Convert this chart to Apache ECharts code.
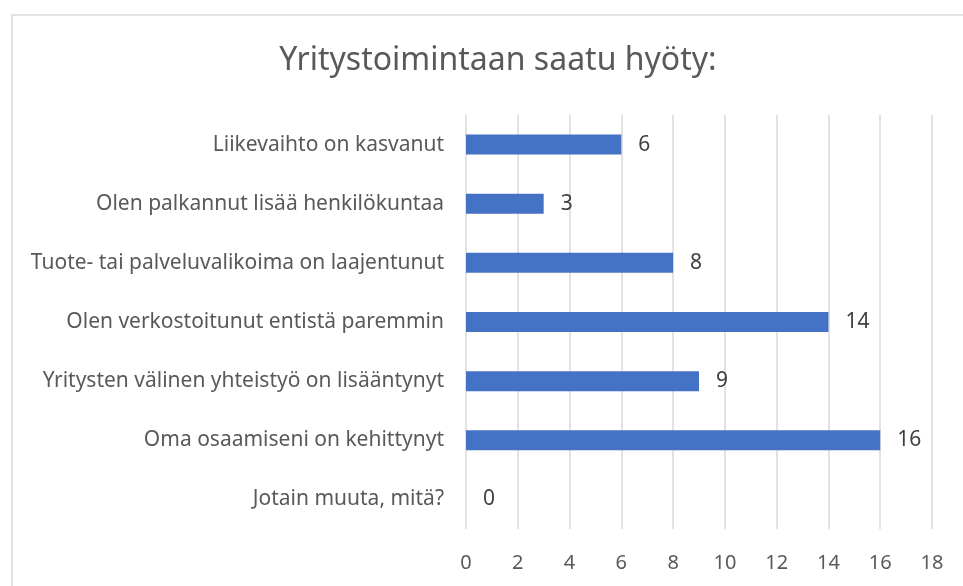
<!DOCTYPE html>
<html>
<head>
<meta charset="utf-8">
<script src="https://cdn.jsdelivr.net/npm/echarts@6/dist/echarts.min.js"></script>
<style>
  html, body { margin: 0; padding: 0; background: #fff; }
  #chart { width: 963px; height: 586px; }
</style>
</head>
<body>
<div id="chart"></div>
<script>
const titleText = 'Yritystoimintaan saatu hyöty:'
const categories = [
  'Liikevaihto on kasvanut',
  'Olen palkannut lisää henkilökuntaa',
  'Tuote- tai palveluvalikoima on laajentunut',
  'Olen verkostoitunut entistä paremmin',
  'Yritysten välinen yhteistyö on lisääntynyt',
  'Oma osaamiseni on kehittynyt',
  'Jotain muuta, mitä?'
]
const values = [6, 3, 8, 14, 9, 16, 0]
const axisMin = 0
const axisMax = 18
const axisStep = 2

const font = '"Noto Sans", "Open Sans", sans-serif'
const chart = echarts.init(document.getElementById('chart'), null, { renderer: 'canvas' })

chart.setOption({
  animation: false,
  backgroundColor: '#fff',
  graphic: [
    { // chart border (cut off at the right and bottom)
      type: 'rect',
      shape: { x: 12, y: 15, width: 1000, height: 700 },
      style: { fill: 'none', stroke: '#d9d9d9', lineWidth: 1.5 },
      silent: true
    }
  ],
  title: {
    text: titleText,
    left: 493,
    top: 40,
    textAlign: 'center',
    textStyle: {
      fontFamily: font,
      fontSize: 32,
      fontWeight: 'normal',
      color: '#595959'
    }
  },
  grid: {
    left: 466,
    right: 31,
    top: 115,
    height: 414,
    containLabel: false
  },
  xAxis: {
    type: 'value',
    min: axisMin,
    max: axisMax,
    interval: axisStep,
    axisLine: { show: false },
    axisTick: { show: false },
    axisLabel: {
      margin: 24,
      fontFamily: font,
      fontSize: 20,
      color: '#595959'
    },
    splitLine: { lineStyle: { color: '#d9d9d9', width: 1.5 } }
  },
  yAxis: {
    type: 'category',
    inverse: true,
    data: categories,
    axisLine: { show: false },
    axisTick: { show: false },
    axisLabel: {
      margin: 22,
      fontFamily: font,
      fontSize: 21,
      color: '#595959'
    }
  },
  series: [
    {
      type: 'bar',
      data: values,
      barWidth: 20,
      itemStyle: { color: '#4472c4' },
      label: {
        show: true,
        position: 'right',
        distance: 17,
        fontFamily: font,
        fontSize: 21,
        color: '#404040'
      }
    }
  ]
})
</script>
</body>
</html>
